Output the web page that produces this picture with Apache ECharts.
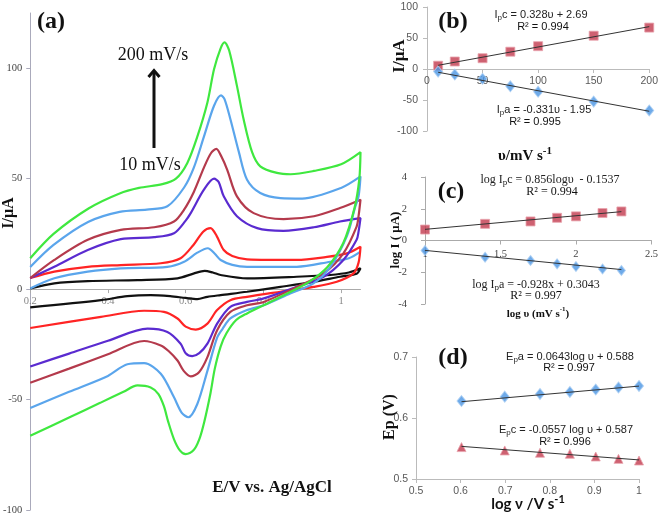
<!DOCTYPE html>
<html><head><meta charset="utf-8">
<script src="https://cdn.jsdelivr.net/npm/echarts@6/dist/echarts.min.js"></script>
<style>html,body{margin:0;padding:0;background:#fff}#c{width:661px;height:516px}</style>
</head><body><div id="c"></div><script>
// ---------- Panel (a): cyclic voltammograms [E (V), I (uA)] ----------
const cv10Fwd = [[0.2,0.3],[0.262,2.6],[0.348,3.6],[0.476,4.1],[0.579,4.9],[0.62,7],[0.649,8.3],[0.67,7.5],[0.69,6.4],[0.758,4.9],[0.886,5.6],[0.972,6.4],[1.02,7.5],[1.05,9.4]];
const cv10Rev = [[1.05,9.4],[1.04,7],[0.997,5.6],[0.929,3.3],[0.844,1],[0.758,-1.2],[0.69,-2.7],[0.656,-3.5],[0.63,-4.5],[0.6,-4],[0.56,-3.2],[0.51,-2.7],[0.45,-3.2],[0.382,-5],[0.2,-8.3]];
const cv25Fwd = [[0.2,0.3],[0.262,4.9],[0.348,7.9],[0.433,9.4],[0.553,10.1],[0.596,12.4],[0.63,16.5],[0.657,18.5],[0.675,16],[0.69,13.2],[0.72,11],[0.758,10.1],[0.886,10.1],[0.972,12.4],[1.02,14],[1.05,17]];
const cv25Rev = [];
const cv50Fwd = [[0.2,5],[0.262,7.9],[0.348,10.1],[0.433,10.9],[0.536,11.7],[0.587,14],[0.62,20],[0.645,26],[0.664,27.6],[0.68,24],[0.698,17.7],[0.72,15],[0.758,13.5],[0.886,13.2],[0.96,14.5],[1.015,16.2],[1.05,19.2]];
const cv50Rev = [[1.05,19.2],[1.045,12],[1.032,7.1],[0.989,3.3],[0.929,1],[0.844,-1.2],[0.758,-3.5],[0.715,-5],[0.681,-9.5],[0.656,-15.6],[0.626,-18.3],[0.6,-17],[0.579,-13.3],[0.544,-10.3],[0.493,-9.8],[0.382,-12.6],[0.2,-17.6]];
const cv75Fwd = [[0.2,5],[0.262,10.1],[0.348,17.7],[0.433,22.6],[0.519,23.5],[0.57,25.3],[0.6,31],[0.613,34.4],[0.647,45],[0.673,50],[0.685,48.5],[0.698,42],[0.732,33],[0.784,27.6],[0.852,26.4],[0.93,28],[0.997,30.6],[1.05,32.1]];
const cv75Rev = [[1.05,32.1],[1.045,26],[1.04,22.3],[1.006,13.2],[0.955,5.6],[0.886,1],[0.801,-4.2],[0.758,-5.8],[0.715,-8],[0.681,-15.6],[0.656,-24.7],[0.635,-29],[0.617,-30.3],[0.6,-29],[0.587,-24.7],[0.553,-19.4],[0.502,-17.9],[0.4,-23.4],[0.3,-29.2],[0.2,-35]];
const cv100Fwd = [[0.2,5],[0.262,13.2],[0.348,22.3],[0.433,26.8],[0.519,28],[0.57,30.6],[0.596,36],[0.621,44],[0.647,55],[0.665,61.5],[0.679,63.5],[0.692,60],[0.707,54],[0.732,42],[0.775,34.4],[0.852,31.7],[0.93,33],[0.997,36.7],[1.05,40.5]];
const cv100Rev = [[1.05,40.5],[1.045,33],[1.04,28.3],[1.006,16.2],[0.955,7.1],[0.886,1],[0.801,-5.8],[0.758,-7.3],[0.715,-10.3],[0.681,-18.6],[0.656,-30.8],[0.635,-37.5],[0.613,-39.5],[0.595,-37],[0.579,-32.3],[0.556,-28],[0.536,-25.5],[0.493,-23.5],[0.4,-29.5],[0.3,-36],[0.2,-42.4]];
const cv150Fwd = [[0.2,10],[0.26,20],[0.35,30.5],[0.43,35],[0.5,36],[0.553,37.5],[0.596,46],[0.621,55],[0.647,69],[0.673,83],[0.691,87.7],[0.70,86],[0.715,77],[0.737,62],[0.758,49.5],[0.792,43.5],[0.844,41.2],[0.9,41],[1.0,45.8],[1.05,51]];
const cv150Rev = [[1.05,51],[1.045,42],[1.036,37],[1.015,24],[0.972,10],[0.929,2.6],[0.869,-2],[0.801,-7.3],[0.758,-9.5],[0.715,-13.3],[0.695,-18],[0.681,-22],[0.656,-37],[0.63,-52],[0.607,-58],[0.59,-56],[0.57,-49],[0.536,-38.3],[0.493,-33.5],[0.45,-34],[0.4,-39.3],[0.3,-46.5],[0.2,-53.8]];
const cv200Fwd = [[0.2,14],[0.26,25],[0.35,36.5],[0.43,43.3],[0.48,45.8],[0.54,47.5],[0.575,50],[0.604,57],[0.63,69],[0.656,84.5],[0.673,99.5],[0.69,109],[0.70,111.7],[0.712,108],[0.732,92],[0.749,77],[0.771,62],[0.792,55.6],[0.835,52.6],[0.87,52],[0.93,53.5],[1.0,56.5],[1.05,62]];
const cv200Rev = [[1.05,62],[1.047,50],[1.035,37],[1.006,21],[0.965,10],[0.92,3.5],[0.878,-0.5],[0.818,-5.8],[0.758,-11],[0.73,-14],[0.705,-20],[0.69,-26],[0.675,-36],[0.664,-47],[0.648,-60],[0.635,-68],[0.62,-73],[0.6,-74.7],[0.585,-73],[0.57,-68],[0.555,-60],[0.544,-53],[0.53,-47.5],[0.51,-44.5],[0.476,-43.6],[0.44,-46.5],[0.38,-51.5],[0.3,-58.1],[0.2,-66.4]];
const cvNames = ['10 mV/s','25 mV/s','50 mV/s','75 mV/s','100 mV/s','150 mV/s','200 mV/s'];
const cvColors = ['#111111','#5aa5ec','#ff2424','#5a2bd0','#b43a4c','#5aa5ec','#3fe83f'];
const cvFwd = [cv10Fwd,cv25Fwd,cv50Fwd,cv75Fwd,cv100Fwd,cv150Fwd,cv200Fwd];
const cvRev = [cv10Rev,cv25Rev,cv50Rev,cv75Rev,cv100Rev,cv150Rev,cv200Rev];
const aYTicks = [-100,-50,0,50,100];
const aXTicks = [0.2,0.4,0.6,0.8,1];

// ---------- Panel (b): peak current vs scan rate ----------
const scanRates = [10,25,50,75,100,150,200];
const ipcB = [5.3,12.1,17.4,27.9,36.8,53.7,66.8];
const ipaB = [-4.2,-8.9,-15.8,-27.9,-36.8,-52.6,-66.8];
const ipcTrendB = [[10,5.97],[200,68.3]];
const ipaTrendB = [[10,-5.26],[200,-68.15]];

// ---------- Panel (c): log I vs log scan rate ----------
const logRate = [1,1.398,1.699,1.875,2,2.176,2.301];
const logIpc = [0.69,1.05,1.2,1.43,1.52,1.73,1.83];
const logIpa = [-0.63,-1.05,-1.26,-1.47,-1.64,-1.79,-1.89];
const logIpcTrend = [[1,0.702],[2.301,1.816]];
const logIpaTrend = [[1,-0.624],[2.301,-1.831]];

// ---------- Panel (d): peak potential vs log scan rate ----------
const logV = [0.602,0.699,0.778,0.845,0.903,0.954,1];
const epa = [0.6278,0.635,0.6394,0.6427,0.6466,0.65,0.6526];
const epc = [0.5523,0.5468,0.543,0.5413,0.5369,0.533,0.5303];
const epaTrend = [[0.602,0.6267],[1,0.6523]];
const epcTrend = [[0.602,0.5535],[1,0.5313]];

const SERIF = '"Liberation Serif", "Times New Roman", serif';
const SANS = '"Liberation Sans", Arial, sans-serif';
const zip = (xs, ys) => xs.map((x,i)=>[x, ys[i]]);
const num = v => String(parseFloat(Number(v).toFixed(3)));

// grid boxes (layout) and y ranges
const grids = [
  {left:29, top:13, width:331.5, height:497},
  {left:427, top:7, width:225, height:124},
  {left:425, top:177, width:228, height:127},
  {left:416, top:357, width:223, height:122}
];
const yRanges = [[-100,125],[-100,100],[-4,4],[0.5,0.7]];
// offset that lifts an x axis from the grid bottom up to y = 0
const zeroOffset = g => {
  const [lo, hi] = yRanges[g];
  if (lo >= 0) return 0;
  return -grids[g].height * (0 - lo) / (hi - lo);
};

const chart = echarts.init(document.getElementById('c'), null, {renderer:'canvas'});

function axisCommon(grid, min, max, interval, labelFont, labelColor, lineColor, margin){
  return {gridIndex:grid, type:'value', min, max, interval,
    axisLine:{show:true, onZero:false, lineStyle:{color:lineColor, width:1}},
    axisTick:{show:true, length:4, lineStyle:{color:lineColor}},
    axisLabel:{fontFamily:labelFont, fontSize:10.5, color:labelColor, margin, formatter:num},
    splitLine:{show:false}};
}

const xAxes = [
  Object.assign(axisCommon(0,0.2,1.05,0.2,SERIF,'#777','#aaa',7),{
    axisTick:{show:true,length:4,customValues:aXTicks,lineStyle:{color:'#aaa'}},
    axisLabel:{customValues:aXTicks,fontFamily:SERIF,fontSize:10.5,color:'#888',margin:7,formatter:num}}),
  axisCommon(1,0,200,50,SANS,'#595959','#bbb',7),
  axisCommon(2,1,2.5,0.5,SERIF,'#444','#aaa',8),
  axisCommon(3,0.5,1,0.1,SANS,'#595959','#bbb',7)
];
xAxes.forEach((ax,g)=>{ ax.position = 'bottom'; ax.offset = zeroOffset(g); });
const yAxes = [
  Object.assign(axisCommon(0,yRanges[0][0],yRanges[0][1],50,SERIF,'#444','#aab',8),{
    axisTick:{show:true,length:4,customValues:aYTicks,lineStyle:{color:'#aab'}},
    axisLabel:{customValues:aYTicks,fontFamily:SERIF,fontSize:10.5,color:'#444',margin:8,formatter:num}}),
  axisCommon(1,yRanges[1][0],yRanges[1][1],50,SANS,'#595959','#bbb',9),
  axisCommon(2,yRanges[2][0],yRanges[2][1],2,SERIF,'#444','#aaa',18),
  axisCommon(3,yRanges[3][0],yRanges[3][1],0.1,SANS,'#595959','#bbb',8)
];

const series = [];
cvFwd.forEach((f,i)=>{
  series.push({type:'line', name:cvNames[i], xAxisIndex:0, yAxisIndex:0, data:f.concat(cvRev[i].slice(1)),
    smooth:0.3, showSymbol:false, lineStyle:{color:cvColors[i], width:2.2}, z:2+i});
});
const redMk = {color:'#c23a4e', borderColor:'#e9a3ad', borderWidth:1};
const blueMk = {color:'#4a95e4', borderColor:'#a9cdf3', borderWidth:1};
function scatter(g, data, symbol, size, style){
  return {type:'scatter', xAxisIndex:g, yAxisIndex:g, data, symbol, symbolSize:size, itemStyle:style, z:3};
}
function trend(g, data){
  return {type:'line', xAxisIndex:g, yAxisIndex:g, data, showSymbol:false, lineStyle:{color:'#333', width:1}, z:5};
}
series.push(scatter(1, zip(scanRates, ipcB), 'rect', 9, redMk));
series.push(scatter(1, zip(scanRates, ipaB), 'diamond', [9,11], blueMk));
series.push(trend(1, ipcTrendB), trend(1, ipaTrendB));
series.push(scatter(2, zip(logRate, logIpc), 'rect', 9, redMk));
series.push(scatter(2, zip(logRate, logIpa), 'diamond', [8,10], blueMk));
series.push(trend(2, logIpcTrend), trend(2, logIpaTrend));
series.push(scatter(3, zip(logV, epa), 'diamond', [9,11], blueMk));
series.push(scatter(3, zip(logV, epc), 'triangle', 9, redMk));
series.push(trend(3, epaTrend), trend(3, epcTrend));

function txt(x, y, text, size, family, weight, opts){
  return Object.assign({type:'text', x, y, z:50, style:{text, fontSize:size, fontFamily:family, fontWeight:weight||'normal',
    fill:'#111', align:'center', verticalAlign:'middle'}}, opts||{});
}
function richTxt(x, y, text, size, family){
  return {type:'text', x, y, z:50, style:{text, fontSize:size, fontFamily:family, fill:'#222', align:'center', verticalAlign:'middle',
    rich:{n:{fontSize:size, fontFamily:family, fill:'#222', lineHeight:size+3, verticalAlign:'bottom'},
          s:{fontSize:size-3, fontFamily:family, fill:'#222', lineHeight:size+3, verticalAlign:'bottom', padding:[0,0,-2,0]},
          u:{fontSize:size-4, fontFamily:family, fontWeight:'bold', fill:'#111', verticalAlign:'top', lineHeight:size+3, padding:[0,0,6,0]},
          b:{fontSize:size, fontFamily:family, fontWeight:'bold', fill:'#111', lineHeight:size+3, verticalAlign:'bottom'}}}};
}
const R90 = Math.PI/2;
const graphic = [
  // panel a
  txt(51, 22, '(a)', 24, SERIF, 'bold'),
  txt(153, 55, '200 mV/s', 18, SERIF),
  txt(150, 165, '10 mV/s', 18, SERIF),
  {type:'line', z:50, shape:{x1:154, y1:148, x2:154, y2:72}, style:{stroke:'#111', lineWidth:3}},
  {type:'polyline', z:50, shape:{points:[[148.5,77],[154,70.5],[159.5,77]]}, style:{stroke:'#111', lineWidth:3, fill:null}},
  txt(9, 213, 'I/μA', 16, SERIF, 'bold', {rotation:R90}),
  txt(272, 488, 'E/V vs. Ag/AgCl', 17, SERIF, 'bold'),
  // panel b
  txt(453, 22, '(b)', 24, SERIF, 'bold'),
  richTxt(541, 13, '{n|I}{s|p}{n|c = 0.328υ + 2.69}', 11, SANS),
  txt(543, 27, 'R² = 0.994', 11, SANS, 'normal'),
  richTxt(544, 108, '{n|I}{s|p}{n|a = -0.331υ - 1.95}', 11, SANS),
  txt(535, 122, 'R² = 0.995', 11, SANS, 'normal'),
  richTxt(525, 155, '{b|υ/mV s}{u|-1}', 15, SERIF),
  txt(400, 56, 'I/μA', 17, SERIF, 'bold', {rotation:R90}),
  // panel c
  txt(451, 192, '(c)', 24, SERIF, 'bold'),
  richTxt(550, 178, '{n|log I}{s|p}{n|c = 0.856logυ  - 0.1537}', 12, SERIF),
  txt(552, 192, 'R² = 0.994', 12, SERIF),
  richTxt(536, 283, '{n|log I}{s|p}{n|a = -0.928x + 0.3043}', 12, SERIF),
  txt(536, 296, 'R² = 0.997', 12, SERIF),
  txt(396, 240, 'log I ( μA)', 13, SERIF, 'bold', {rotation:R90}),
  richTxt(538, 313, '{b|log υ (mV s}{u|-1}{b|)}', 11, SERIF),
  // panel d
  txt(453, 358, '(d)', 24, SERIF, 'bold'),
  richTxt(570, 355, '{n|E}{s|p}{n|a = 0.0643log υ + 0.588}', 11, SANS),
  txt(569, 368, 'R² = 0.997', 11, SANS),
  richTxt(566, 428, '{n|E}{s|p}{n|c = -0.0557 log υ + 0.587}', 11, SANS),
  txt(565, 442, 'R² = 0.996', 11, SANS),
  txt(390, 417, 'Ep (V)', 16, SERIF, 'bold', {rotation:R90}),
  richTxt(528, 503, '{b|log ν /V s}{u|-1}', 15, '"Lato", "Liberation Sans", sans-serif')
];

chart.setOption({
  animation:false,
  backgroundColor:'#fff',
  grid:grids,
  xAxis:xAxes, yAxis:yAxes, series, graphic
});
</script></body></html>
